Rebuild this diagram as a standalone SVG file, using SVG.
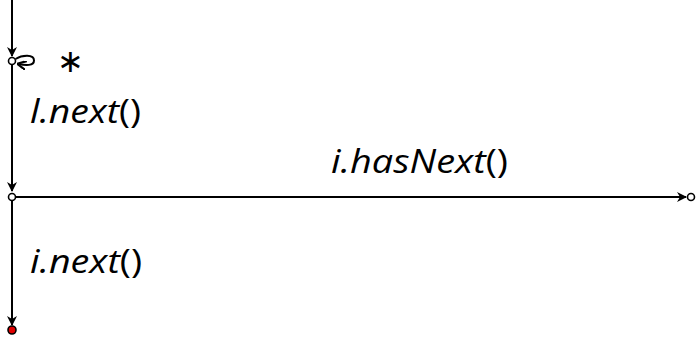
<svg xmlns="http://www.w3.org/2000/svg" width="698" height="339" viewBox="0 0 698 339">
<defs>
<style>
.edge{fill:none;stroke:#000;stroke-width:2}
.node{fill:#fff;stroke:#000;stroke-width:1.6}
.lbl{font-family:"Open Sans","DejaVu Sans",sans-serif;font-size:32px;fill:#000}
.it{font-style:italic}
</style>
<marker id="arr" viewBox="0 0 10 10" refX="9" refY="5" markerWidth="11" markerHeight="10" markerUnits="userSpaceOnUse" orient="auto">
<path d="M0,0 L10,5 L0,10 L3,5 Z" fill="#000"/>
</marker>
<marker id="arrs" viewBox="0 0 10 10" refX="9" refY="5" markerWidth="9" markerHeight="9" markerUnits="userSpaceOnUse" orient="auto">
<path d="M0,0 L10,5 L0,10" fill="none" stroke="#000" stroke-width="2.4"/>
</marker>
</defs>
<g id="connectors">
<line class="edge" x1="12" y1="0" x2="12" y2="56" marker-end="url(#arr)"/>
<path class="edge" d="M15.5,59 C 22,55 34,54 34,60.5 C 34,66 26,65.5 18,64" marker-end="url(#arrs)"/>
<line class="edge" x1="12" y1="65" x2="12" y2="191" marker-end="url(#arr)"/>
<line class="edge" x1="16" y1="197" x2="686" y2="197" marker-end="url(#arr)"/>
<line class="edge" x1="12" y1="201" x2="12" y2="325" marker-end="url(#arr)"/>
<text class="lbl" x="57" y="72" font-family="DejaVu Sans" font-size="36">∗</text>
<text class="lbl" x="30" y="123" textLength="111" lengthAdjust="spacingAndGlyphs"><tspan class="it">l.next</tspan>()</text>
<text class="lbl" x="331" y="173" textLength="177" lengthAdjust="spacingAndGlyphs"><tspan class="it">i.hasNext</tspan>()</text>
<text class="lbl" x="30" y="273" textLength="112" lengthAdjust="spacingAndGlyphs"><tspan class="it">i.next</tspan>()</text>
</g>
<g id="n1"><circle class="node" cx="12" cy="61" r="3.5"/></g>
<g id="n2"><circle class="node" cx="12" cy="197" r="3.5"/></g>
<g id="n3"><circle class="node" cx="691" cy="197" r="3.5"/></g>
<g id="n4"><circle cx="12" cy="330" r="4" fill="#e00000" stroke="#000" stroke-width="1.6"/></g>
</svg>
